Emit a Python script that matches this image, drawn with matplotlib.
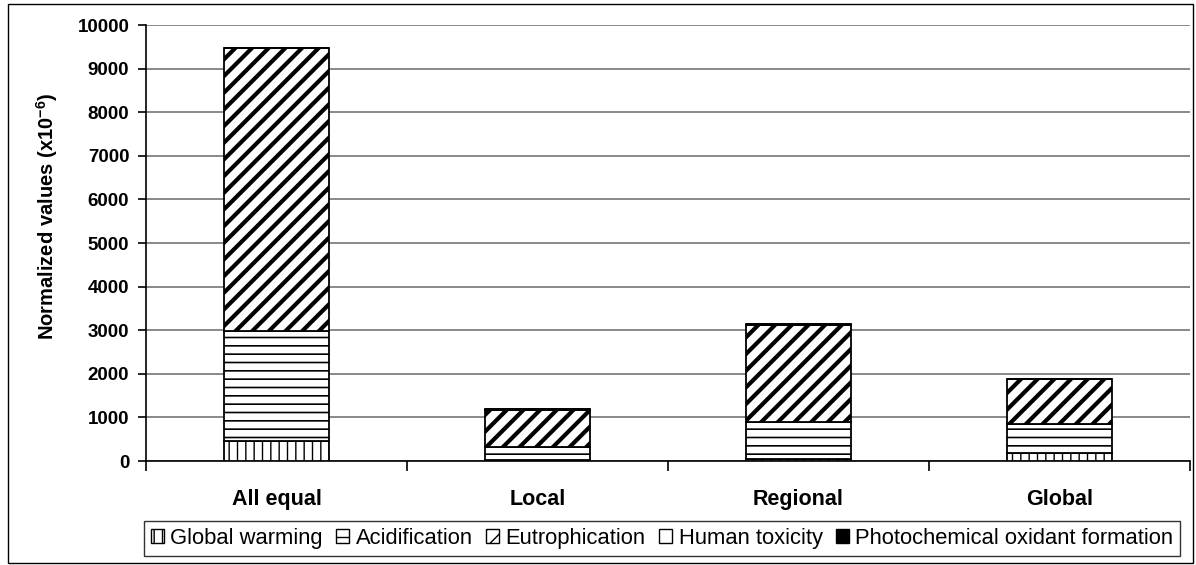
import matplotlib
matplotlib.use("Agg")
import matplotlib.pyplot as plt
from matplotlib.patches import Patch, Rectangle
import numpy as np

categories = ["All equal", "Local", "Regional", "Global"]
global_warming = [470, 30, 40, 190]
acidification = [2510, 300, 860, 650]
eutrophication = [6490, 850, 2230, 1040]
human_toxicity = [8, 4, 4, 4]
photochemical = [4, 2, 3, 3]

series = [
    ("Global warming", global_warming, "white", "||", 1.0),
    ("Acidification", acidification, "white", "--", 1.2),
    ("Eutrophication", eutrophication, "white", "//", 3.0),
    ("Human toxicity", human_toxicity, "white", "", 1.0),
    ("Photochemical oxidant formation", photochemical, "black", "", 1.0),
]

plt.rcParams["font.family"] = ["Liberation Sans", "DejaVu Sans"]
plt.rcParams["mathtext.fontset"] = "custom"
plt.rcParams["mathtext.rm"] = "Liberation Sans:bold"
plt.rcParams["mathtext.bf"] = "Liberation Sans:bold"
plt.rcParams["mathtext.default"] = "bf"

fig = plt.figure(figsize=(11.96, 5.65), dpi=100)
ax = fig.add_axes([146 / 1196, 1 - 461 / 565, 1044 / 1196, 436 / 565])

x = np.arange(len(categories))
bottom = np.zeros(len(categories))
for label, vals, face, hatch, hlw in series:
    bars = ax.bar(x, vals, width=0.4, bottom=bottom, color=face, edgecolor="black",
                  linewidth=1.3, hatch=hatch, zorder=3)
    for b in bars:
        if hasattr(b, "set_hatch_linewidth"):
            b.set_hatch_linewidth(hlw)
    bottom += np.array(vals)

ax.set_xlim(-0.5, 3.5)
ax.set_ylim(0, 10000)
ax.set_yticks(np.arange(0, 10001, 1000))
ax.yaxis.grid(True, color="#808080", linewidth=1.3, zorder=0)
ax.set_axisbelow(True)
for s in ("top", "right"):
    ax.spines[s].set_visible(False)
ax.spines["left"].set_linewidth(1.2)
ax.spines["bottom"].set_linewidth(1.2)

ax.set_xticks(x)
ax.set_xticklabels(categories, fontsize=15.5, fontweight="bold")
ax.set_xticks(np.arange(-0.5, 3.6, 1), minor=True)
ax.tick_params(axis="x", which="major", length=0, pad=20)
ax.tick_params(axis="x", which="minor", length=7, width=1.2, direction="out")
ax.tick_params(axis="y", length=6, width=1.2, direction="out", labelsize=13.5, pad=6)
for t in ax.get_yticklabels():
    t.set_fontweight("bold")
ax.set_ylabel("Normalized values (x10$^{-6}$)", fontsize=14.5, fontweight="bold")
ax.yaxis.set_label_coords(-0.082, 0.56)

handles = []
for label, vals, face, hatch, hlw in series:
    handles.append(Patch(facecolor=face, edgecolor="black", hatch=hatch,
                         linewidth=1.0, label=label))
leg = fig.legend(handles=handles, loc="center", ncol=5,
                 bbox_to_anchor=(662 / 1196, 1 - 538.5 / 565),
                 fontsize=15.8, frameon=True, fancybox=False, edgecolor="black",
                 handlelength=0.6, handleheight=0.6, handletextpad=0.3,
                 columnspacing=0.6, borderpad=0.3)
leg.get_frame().set_linewidth(1.0)
for h in leg.legend_handles:
    if hasattr(h, "set_hatch_linewidth"):
        h.set_hatch_linewidth(1.0)

# border round the whole chart
fig.patches.append(Rectangle((8 / 1196, 2 / 565), 1185 / 1196, 559 / 565,
                             transform=fig.transFigure, fill=False,
                             edgecolor="black", linewidth=1.0))

fig.savefig("out.png", dpi=100)
